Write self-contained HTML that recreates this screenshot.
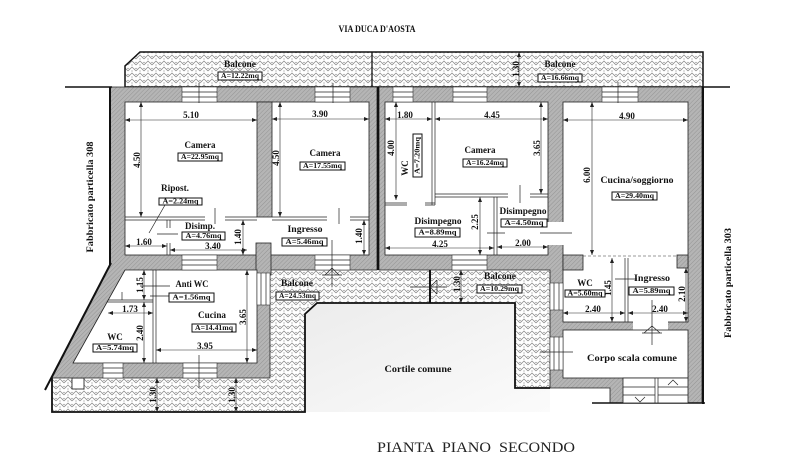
<!DOCTYPE html>
<html><head><meta charset="utf-8">
<style>
html,body{margin:0;padding:0;background:#fff;}
svg{display:block;}
.t{font-family:"Liberation Serif",serif;font-weight:bold;font-size:9px;text-anchor:middle;dominant-baseline:central;fill:#111;}
.a{font-size:7px;}
.b{fill:#fff;stroke:#111;stroke-width:1;}
.dl{stroke:#222;stroke-width:0.6;fill:none;marker-start:url(#m);marker-end:url(#m);}
.ln{stroke:#222;stroke-width:0.7;fill:none;}
.w{fill:url(#wall);stroke:#222;stroke-width:0.8;}
.r{fill:#fff;stroke:#222;stroke-width:0.8;}
.win{fill:#fff;stroke:#333;stroke-width:0.6;}
</style></head>
<body>
<svg width="800" height="460" viewBox="0 0 800 460" xmlns="http://www.w3.org/2000/svg">
<defs>
<pattern id="hb" width="8" height="6" patternUnits="userSpaceOnUse">
<rect width="8" height="6" fill="#fff"/>
<path d="M0 5 L4 1 L8 5" stroke="#888" stroke-width="0.75" fill="none"/>
<path d="M0 2 L1.5 3.5 M8 2 L6.5 3.5 M4 4 L4 6" stroke="#999" stroke-width="0.6" fill="none"/>
</pattern>
<pattern id="wall" width="3" height="3" patternUnits="userSpaceOnUse" patternTransform="rotate(45)">
<rect width="3" height="3" fill="#b5b5b5"/>
<line x1="0" y1="0" x2="0" y2="3" stroke="#8c8c8c" stroke-width="0.8"/>
</pattern>
<marker id="m" markerWidth="5" markerHeight="4" refX="5" refY="2" orient="auto-start-reverse" markerUnits="userSpaceOnUse">
<path d="M0 0 L5 2 L0 4 z" fill="#222"/>
</marker>
<linearGradient id="cg" x1="0" y1="0" x2="1" y2="1">
<stop offset="0" stop-color="#ececec"/><stop offset="1" stop-color="#fbfbfb"/>
</linearGradient>
</defs>
<rect width="800" height="460" fill="#fff"/>

<!-- title -->
<text class="t" x="377" y="29" font-size="8" textLength="77" lengthAdjust="spacingAndGlyphs">VIA DUCA D'AOSTA</text>

<!-- top balcony -->
<polygon points="140,52 703,52 703,87 125,87 125,66" fill="url(#hb)" stroke="#111" stroke-width="1.5"/>
<line x1="372" y1="52" x2="372" y2="87" stroke="#111" stroke-width="1.3"/>

<!-- lower balcony -->
<polygon points="270,270 550,270 550,388 515,388 515,303 317,303 305,314 305,412 52,412 52,378 270,378" fill="url(#hb)" stroke="none"/>
<polygon points="305,314 317,303 515,303 515,388 550,388 550,412 305,412" fill="url(#cg)"/>
<polyline points="550,388 515,388 515,303 317,303 305,314 305,412 52,412 52,378" fill="none" stroke="#111" stroke-width="1.8"/>
<line x1="430" y1="270" x2="430" y2="303" stroke="#111" stroke-width="2"/>
<rect x="72" y="378" width="12" height="11" fill="#fff" stroke="#111" stroke-width="0.8"/>

<!-- walls -->
<polygon class="w" points="110,87 377,87 377,270 270,270 270,378 52,378 110,265"/>
<polygon class="w" points="379,87 702,87 702,403 610,403 610,388 550,388 550,270 379,270"/>

<!-- outer black lines -->
<line x1="110" y1="87" x2="110" y2="265" stroke="#111" stroke-width="2"/>
<line x1="111" y1="263" x2="45" y2="390" stroke="#111" stroke-width="2"/>
<line x1="65" y1="87" x2="112" y2="87" stroke="#111" stroke-width="1.5"/>
<line x1="702" y1="87" x2="730" y2="87" stroke="#111" stroke-width="1.5"/>
<line x1="703" y1="87" x2="703" y2="404" stroke="#111" stroke-width="2"/>
<line x1="592" y1="403" x2="705" y2="403" stroke="#111" stroke-width="1.5"/>
<line x1="378" y1="87" x2="378" y2="270" stroke="#111" stroke-width="2"/>

<!-- left unit upper rooms -->
<rect class="r" x="125" y="102" width="244" height="153"/>
<rect class="w" x="257" y="102" width="15" height="115"/>
<rect class="w" x="256" y="243" width="15" height="32"/>
<g class="ln">
<path d="M125 217H205 M125 220H205 M225 217H257 M225 220H257 M272 217H327 M272 220H327 M350 217H369 M350 220H369"/>
<path d="M215 208V224 M339 208V224"/>
<path d="M167 220V228 M170 220V228 M167 243V255 M170 243V255 M157 234H178"/>
</g>

<!-- left unit lower rooms -->
<polygon class="r" points="125,270 257,270 257,363 73,363"/>
<rect class="win" x="257" y="273" width="13" height="32"/>
<path class="ln" d="M261 273V305 M266 273V305"/>
<g class="ln">
<path d="M153 270V363 M156 270V363"/>
<path d="M108 300H153 M107 302H153 M122 292V300"/>
<path d="M140 286H170"/>
</g>

<!-- right unit rooms -->
<rect class="r" x="385" y="102" width="163" height="153"/>
<g class="ln">
<path d="M432 102V205 M435 102V205"/>
<path d="M385 203H407 M385 205H407 M425 203H435 M425 205H435"/>
<path d="M435 194H508 M435 197H508 M530 194H548 M530 197H548 M520 185V203"/>
<path d="M494 197V255 M497 197V255"/>
<path d="M415 233H435 M487 233H505"/>
</g>
<rect class="r" x="563" y="102" width="125" height="220"/>
<rect class="w" x="563" y="255" width="20" height="15"/>
<rect class="w" x="677" y="255" width="11" height="13"/>
<rect x="547" y="222" width="17" height="23" fill="#fff"/>
<path class="ln" d="M540 233H572"/>
<path d="M583 256H677" stroke="#333" stroke-width="0.6" stroke-dasharray="3,2"/>
<path class="ln" d="M625 258V322 M628 258V322 M615 279H637"/>
<rect x="633" y="321" width="35" height="10" fill="#fff"/>
<rect class="r" x="563" y="330" width="125" height="48"/>
<rect class="win" x="550" y="283" width="13" height="27"/>
<path class="ln" d="M554 283V310 M559 283V310"/>
<rect class="win" x="550" y="337" width="13" height="33"/>
<path class="ln" d="M554 337V370 M559 337V370"/>
<path class="ln" d="M540 352H573"/>
<!-- stairs -->
<rect class="r" x="623" y="378" width="65" height="25"/>
<path class="ln" d="M655 378V403 M658 378V403 M623 387H655 M623 395H655 M658 387H688 M658 395H688"/>
<path class="ln" d="M635 397L640 402L645 397 M668 385L673 380L678 385"/>

<!-- windows top wall -->
<g>
<rect class="win" x="182" y="87" width="35" height="15"/>
<rect class="win" x="315" y="87" width="35" height="15"/>
<rect class="win" x="393" y="87" width="20" height="15"/>
<rect class="win" x="453" y="87" width="34" height="15"/>
<rect class="win" x="602" y="87" width="36" height="15"/>
<path class="ln" d="M182 92H217 M182 97H217 M315 92H350 M315 97H350 M393 92H413 M393 97H413 M453 92H487 M453 97H487 M602 92H638 M602 97H638"/>
<path class="ln" d="M199 83V103 M333 83V103 M618 82V103"/>
</g>
<!-- windows bottom walls -->
<rect class="win" x="182" y="255" width="35" height="15"/>
<rect class="win" x="315" y="255" width="35" height="15"/>
<rect class="win" x="452" y="255" width="35" height="15"/>
<path class="ln" d="M182 260H217 M182 265H217 M315 260H350 M315 265H350 M452 260H487 M452 265H487"/>
<rect class="win" x="103" y="363" width="20" height="15"/>
<rect class="win" x="183" y="363" width="34" height="15"/>
<path class="ln" d="M103 368H123 M103 373H123 M183 368H217 M183 373H217 M199 355V388"/>

<!-- door arrows -->
<path class="ln" d="M332 240V287 M322 275H342 M325 275L332 268L339 275"/>
<path class="ln" d="M410 287H447 M437 280L430 287L437 294 M437 280V294"/>
<path class="ln" d="M652 300V345 M644 333L652 326L660 333 M642 333H662"/>

<!-- dimension lines -->
<g>
<line class="dl" x1="125" y1="120" x2="257" y2="120"/>
<line class="dl" x1="272" y1="119" x2="369" y2="119"/>
<line class="dl" x1="141" y1="102" x2="141" y2="217"/>
<line class="dl" x1="280" y1="102" x2="280" y2="217"/>
<line class="dl" x1="125" y1="246" x2="167" y2="246"/>
<line class="dl" x1="170" y1="250" x2="247" y2="250"/>
<line class="dl" x1="243" y1="220" x2="243" y2="255"/>
<line class="dl" x1="364" y1="220" x2="364" y2="255"/>
<line class="dl" x1="385" y1="119" x2="432" y2="119"/>
<line class="dl" x1="435" y1="119" x2="548" y2="119"/>
<line class="dl" x1="563" y1="120" x2="688" y2="120"/>
<line class="dl" x1="396" y1="102" x2="396" y2="200"/>
<line class="dl" x1="541" y1="102" x2="541" y2="194"/>
<line class="dl" x1="592" y1="102" x2="592" y2="255"/>
<line class="dl" x1="480" y1="197" x2="480" y2="255"/>
<line class="dl" x1="385" y1="248" x2="494" y2="248"/>
<line class="dl" x1="497" y1="247" x2="548" y2="247"/>
<line class="dl" x1="144" y1="270" x2="144" y2="300"/>
<line class="dl" x1="108" y1="313" x2="153" y2="313"/>
<line class="dl" x1="144" y1="302" x2="144" y2="363"/>
<line class="dl" x1="247" y1="270" x2="247" y2="363"/>
<line class="dl" x1="156" y1="350" x2="257" y2="350"/>
<line class="dl" x1="157" y1="378" x2="157" y2="412"/>
<line class="dl" x1="236" y1="378" x2="236" y2="412"/>
<line class="dl" x1="519" y1="52" x2="519" y2="87"/>
<line class="dl" x1="461" y1="270" x2="461" y2="303"/>
<line class="dl" x1="563" y1="313" x2="625" y2="313"/>
<line class="dl" x1="612" y1="258" x2="612" y2="322"/>
<line class="dl" x1="628" y1="313" x2="688" y2="313"/>
<line class="dl" x1="686" y1="268" x2="686" y2="322"/>
</g>

<!-- dimension texts -->
<g class="t">
<text x="191" y="115">5.10</text>
<text x="320" y="114">3.90</text>
<text x="137" y="160" transform="rotate(-90 137 160)">4.50</text>
<text x="276" y="158" transform="rotate(-90 276 158)">4.50</text>
<text x="144" y="242">1.60</text>
<text x="213" y="246">3.40</text>
<text x="238" y="237" transform="rotate(-90 238 237)">1.40</text>
<text x="359" y="236" transform="rotate(-90 359 236)">1.40</text>
<text x="405" y="115">1.80</text>
<text x="492" y="115">4.45</text>
<text x="627" y="116">4.90</text>
<text x="391" y="148" transform="rotate(-90 391 148)">4.00</text>
<text x="537" y="148" transform="rotate(-90 537 148)">3.65</text>
<text x="587" y="175" transform="rotate(-90 587 175)">6.00</text>
<text x="475" y="222" transform="rotate(-90 475 222)">2.25</text>
<text x="440" y="244">4.25</text>
<text x="523" y="243">2.00</text>
<text x="140" y="285" transform="rotate(-90 140 285)">1.15</text>
<text x="130" y="309">1.73</text>
<text x="140" y="333" transform="rotate(-90 140 333)">2.40</text>
<text x="243" y="317" transform="rotate(-90 243 317)">3.65</text>
<text x="205" y="346">3.95</text>
<text x="153" y="395" transform="rotate(-90 153 395)">1.30</text>
<text x="232" y="395" transform="rotate(-90 232 395)">1.30</text>
<text x="516" y="69" transform="rotate(-90 516 69)">1.30</text>
<text x="457" y="284" transform="rotate(-90 457 284)">1.30</text>
<text x="593" y="309">2.40</text>
<text x="608" y="288" transform="rotate(-90 608 288)">1.45</text>
<text x="660" y="309">2.40</text>
<text x="682" y="294" transform="rotate(-90 682 294)">2.10</text>
</g>

<!-- leader lines -->
<path class="ln" d="M165 205L149 233"/>
<path class="ln" d="M150 296H169"/>

<!-- room labels -->
<g class="t">
<text x="240" y="64" textLength="32" lengthAdjust="spacingAndGlyphs">Balcone</text>
<text x="560" y="64" textLength="31" lengthAdjust="spacingAndGlyphs">Balcone</text>
<text x="200" y="145" textLength="31" lengthAdjust="spacingAndGlyphs">Camera</text>
<text x="325" y="153" textLength="31" lengthAdjust="spacingAndGlyphs">Camera</text>
<text x="175" y="188" textLength="28" lengthAdjust="spacingAndGlyphs">Ripost.</text>
<text x="200" y="226" textLength="30" lengthAdjust="spacingAndGlyphs">Disimp.</text>
<text x="305" y="229" textLength="35" lengthAdjust="spacingAndGlyphs">Ingresso</text>
<text x="480" y="150" textLength="31" lengthAdjust="spacingAndGlyphs">Camera</text>
<text x="405" y="168" transform="rotate(-90 405 168)">WC</text>
<text x="637" y="180" textLength="73" lengthAdjust="spacingAndGlyphs">Cucina/soggiorno</text>
<text x="438" y="221" textLength="47" lengthAdjust="spacingAndGlyphs">Disimpegno</text>
<text x="523" y="211" textLength="47" lengthAdjust="spacingAndGlyphs">Disimpegno</text>
<text x="500" y="276" textLength="32" lengthAdjust="spacingAndGlyphs">Balcone</text>
<text x="297" y="283" textLength="32" lengthAdjust="spacingAndGlyphs">Balcone</text>
<text x="192" y="284" textLength="33" lengthAdjust="spacingAndGlyphs">Anti WC</text>
<text x="212" y="315" textLength="28" lengthAdjust="spacingAndGlyphs">Cucina</text>
<text x="115" y="337">WC</text>
<text x="585" y="283">WC</text>
<text x="652" y="278" textLength="36" lengthAdjust="spacingAndGlyphs">Ingresso</text>
<text x="632" y="358" textLength="90" lengthAdjust="spacingAndGlyphs">Corpo scala comune</text>
<text x="418" y="369" textLength="67" lengthAdjust="spacingAndGlyphs">Cortile comune</text>
<text x="90" y="197" transform="rotate(-90 90 197)" textLength="111" lengthAdjust="spacingAndGlyphs">Fabbricato particella 308</text>
<text x="728" y="283" transform="rotate(-90 728 283)" textLength="110" lengthAdjust="spacingAndGlyphs">Fabbricato particella 303</text>
</g>

<!-- area boxes -->
<g>
<rect class="b" x="218" y="72" width="44" height="8"/>
<rect class="b" x="538" y="74" width="44" height="8"/>
<rect class="b" x="178" y="153" width="44" height="8"/>
<rect class="b" x="300" y="162" width="45" height="8"/>
<rect class="b" x="159" y="198" width="43" height="7"/>
<rect class="b" x="182" y="232" width="43" height="8"/>
<rect class="b" x="282" y="238" width="45" height="8"/>
<rect class="b" x="463" y="159" width="44" height="8"/>
<rect class="b" x="413" y="134" width="9" height="43"/>
<rect class="b" x="612" y="192" width="45" height="8"/>
<rect class="b" x="415" y="228" width="45" height="9"/>
<rect class="b" x="501" y="219" width="46" height="8"/>
<rect class="b" x="477" y="285" width="45" height="8"/>
<rect class="b" x="276" y="292" width="43" height="8"/>
<rect class="b" x="169" y="293" width="45" height="9"/>
<rect class="b" x="192" y="324" width="44" height="8"/>
<rect class="b" x="93" y="344" width="44" height="8"/>
<rect class="b" x="565" y="290" width="40" height="7"/>
<rect class="b" x="629" y="287" width="45" height="8"/>
</g>
<g class="t a">
<text x="240" y="76" textLength="38" lengthAdjust="spacingAndGlyphs">A=12.22mq</text>
<text x="560" y="78" textLength="38" lengthAdjust="spacingAndGlyphs">A=16.66mq</text>
<text x="200" y="157" textLength="38" lengthAdjust="spacingAndGlyphs">A=22.95mq</text>
<text x="322.5" y="166" textLength="39" lengthAdjust="spacingAndGlyphs">A=17.55mq</text>
<text x="180.5" y="201.5" textLength="36" lengthAdjust="spacingAndGlyphs">A=2.24mq</text>
<text x="203.5" y="236" textLength="36" lengthAdjust="spacingAndGlyphs">A=4.76mq</text>
<text x="304.5" y="242" textLength="38" lengthAdjust="spacingAndGlyphs">A=5.46mq</text>
<text x="485" y="163" textLength="38" lengthAdjust="spacingAndGlyphs">A=16.24mq</text>
<text x="417.5" y="155.5" transform="rotate(-90 417.5 155.5)" textLength="37" lengthAdjust="spacingAndGlyphs">A=7.20mq</text>
<text x="634.5" y="196" textLength="39" lengthAdjust="spacingAndGlyphs">A=29.40mq</text>
<text x="437.5" y="232.5" textLength="38" lengthAdjust="spacingAndGlyphs">A=8.89mq</text>
<text x="524" y="223" textLength="39" lengthAdjust="spacingAndGlyphs">A=4.50mq</text>
<text x="499.5" y="289" textLength="39" lengthAdjust="spacingAndGlyphs">A=10.29mq</text>
<text x="297.5" y="296" textLength="37" lengthAdjust="spacingAndGlyphs">A=24.53mq</text>
<text x="191.5" y="297.5" textLength="38" lengthAdjust="spacingAndGlyphs">A=1.56mq</text>
<text x="214" y="328" textLength="38" lengthAdjust="spacingAndGlyphs">A=14.41mq</text>
<text x="115" y="348" textLength="38" lengthAdjust="spacingAndGlyphs">A=5.74mq</text>
<text x="585" y="293.5" textLength="35" lengthAdjust="spacingAndGlyphs">A=5.60mq</text>
<text x="651.5" y="291" textLength="38" lengthAdjust="spacingAndGlyphs">A=5.89mq</text>
</g>

<!-- bottom title -->
<text x="476" y="448" font-family="'Liberation Serif',serif" font-size="15" text-anchor="middle" dominant-baseline="central" fill="#222" style="white-space:pre" textLength="198" lengthAdjust="spacingAndGlyphs">PIANTA  PIANO  SECONDO</text>
</svg>
</body></html>
